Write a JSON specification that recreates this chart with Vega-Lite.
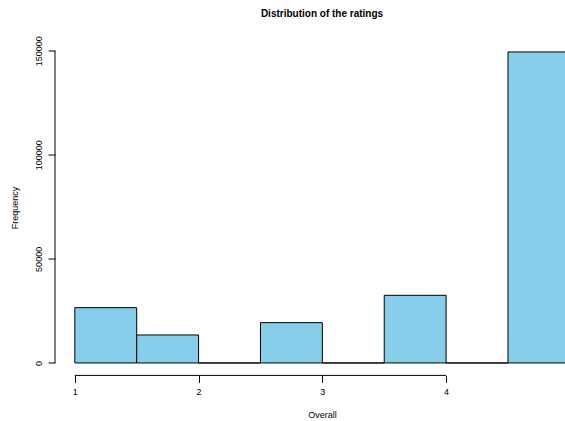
{
  "$schema": "https://vega.github.io/schema/vega-lite/v6.json",
  "autosize": {"type": "none"},
  "padding": {"left": 55, "top": 39.5, "right": 0, "bottom": 45.6},
  "width": 510,
  "height": 335.9,
  "background": "white",
  "config": {
    "view": {"stroke": null},
    "font": "Liberation Sans",
    "axis": {"grid": false, "domain": false, "tickColor": "black", "tickSize": 7, "labelColor": "black", "titleColor": "black", "labelFont": "Liberation Sans", "titleFont": "Liberation Sans", "labelFontSize": 9, "titleFontSize": 9, "titleFontWeight": "normal"}
  },
  "title": {"text": "Distribution of the ratings", "fontSize": 10, "fontWeight": "bold", "font": "Liberation Sans", "color": "black", "anchor": "middle", "offset": 17, "dx": 12},
  "data": {"values": [
    {"bin_start": 1.0, "bin_end": 1.5, "count": 26560},
    {"bin_start": 1.5, "bin_end": 2.0, "count": 13450},
    {"bin_start": 2.0, "bin_end": 2.5, "count": 0},
    {"bin_start": 2.5, "bin_end": 3.0, "count": 19360},
    {"bin_start": 3.0, "bin_end": 3.5, "count": 0},
    {"bin_start": 3.5, "bin_end": 4.0, "count": 32500},
    {"bin_start": 4.0, "bin_end": 4.5, "count": 0},
    {"bin_start": 4.5, "bin_end": 5.0, "count": 149400}
  ]},
  "layer": [
    {
      "mark": {"type": "rect", "fill": "#87CEEB", "stroke": "black", "strokeWidth": 1, "clip": true},
      "encoding": {
        "x": {"field": "bin_start", "type": "quantitative",
              "scale": {"domain": [0.84, 4.9605], "nice": false, "zero": false},
              "axis": {"values": [1, 2, 3, 4], "title": "Overall", "labelPadding": 5, "titleX": 267, "titlePadding": 14, "format": "d"}},
        "x2": {"field": "bin_end"},
        "y": {"field": "count", "type": "quantitative",
              "scale": {"domain": [-5976, 155376], "nice": false, "zero": false},
              "axis": {"values": [0, 50000, 100000, 150000], "format": "d", "title": "Frequency", "labelAngle": -90, "labelAlign": "center", "labelBaseline": "bottom", "labelPadding": 5, "titlePadding": 15}},
        "y2": {"datum": 0}
      }
    },
    {
      "data": {"values": [{"from": 1, "to": 4, "at": -5976}]},
      "mark": {"type": "rule", "color": "black", "strokeWidth": 1},
      "encoding": {
        "x": {"field": "from", "type": "quantitative"},
        "x2": {"field": "to"},
        "y": {"field": "at", "type": "quantitative"}
      }
    },
    {
      "data": {"values": [{"from": 0, "to": 150000, "at": 0.84}]},
      "mark": {"type": "rule", "color": "black", "strokeWidth": 1},
      "encoding": {
        "y": {"field": "from", "type": "quantitative"},
        "y2": {"field": "to"},
        "x": {"field": "at", "type": "quantitative"}
      }
    }
  ]
}
